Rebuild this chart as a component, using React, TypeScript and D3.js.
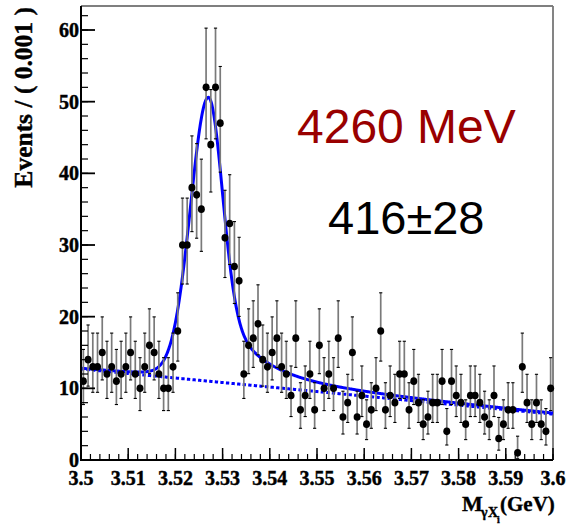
import React from "react";
import * as d3 from "d3";

// ---- data ----
const binStart = 3.5;
const binWidth = 0.001;
const counts: number[] = [
  11, 14, 13, 13, 15, 12, 13, 11, 12, 13, 15, 12, 10, 13, 16, 15, 12, 10, 10, 13,
  18, 30, 30, 38, 37, 35, 52, 44, 52, 47, 31, 33, 27, 25, 12, 16, 17, 19, 14, 13,
  15, 17, 13, 12, 9, 17, 7, 9, 12, 7, 16, 10, 12, 10, 17, 6, 8, 15, 6, 9,
  5, 7, 10, 18, 7, 9, 8, 12, 12, 7, 11, 8, 5, 6, 8, 8, 11, 4, 11, 9,
  8, 5, 9, 9, 8, 6, 5, 9, 3, 5, 7, 7, 1, 13, 8, 5, 8, 5, 4, 10,
];
const xMajorTicks: number[] = [3.5, 3.51, 3.52, 3.53, 3.54, 3.55, 3.56, 3.57, 3.58, 3.59, 3.6];
const xTickLabels: string[] = ["3.5", "3.51", "3.52", "3.53", "3.54", "3.55", "3.56", "3.57", "3.58", "3.59", "3.6"];
const yMajorTicks: number[] = [0, 10, 20, 30, 40, 50, 60];
const yTickLabels: string[] = ["0", "10", "20", "30", "40", "50", "60"];

// fit model parameters
const bgAtLow = 12.7; // background at 3.50
const bgAtHigh = 6.4; // background at 3.60
const peakMean = 3.527;
const peakAmp = 39.6;
const sigmaLeft = 0.0038;
const sigmaRight = 0.0029;
const lorentzFracLeft = 0.08;
const lorentzFracRight = 0.25;
const gammaLeft = 0.005;
const gammaRight = 0.009;

const energyLabel = "4260 MeV";
const yieldLabel = "416\u00B128";

// ---- layout ----
const W = 566;
const H = 525;
const left = 81;
const right = 553;
const top = 6;
const bottom = 460;
const xDomain: [number, number] = [3.5, 3.6];
const yDomain: [number, number] = [0, 63.35];

function background(m: number) {
  const t = (m - xDomain[0]) / (xDomain[1] - xDomain[0]);
  return bgAtLow + (bgAtHigh - bgAtLow) * t;
}
function signal(m: number) {
  const d = m - peakMean;
  const s = d < 0 ? sigmaLeft : sigmaRight;
  const eta = d < 0 ? lorentzFracLeft : lorentzFracRight;
  const g = d < 0 ? gammaLeft : gammaRight;
  const gauss = Math.exp(-(d * d) / (2 * s * s));
  const lor = 1 / (1 + (d / g) * (d / g));
  return peakAmp * ((1 - eta) * gauss + eta * lor);
}
function poissonLow(n: number) {
  if (n <= 0) return 0;
  return n * Math.pow(1 - 1 / (9 * n) - 1 / (3 * Math.sqrt(n)), 3);
}
function poissonHigh(n: number) {
  return n + Math.sqrt(n + 0.75) + 1;
}

export default function App() {
  const x = d3.scaleLinear().domain(xDomain).range([left, right]);
  const y = d3.scaleLinear().domain(yDomain).range([bottom, top]);

  const samples = d3.range(0, 1001).map((i) => xDomain[0] + (i / 1000) * (xDomain[1] - xDomain[0]));
  const totalPath = d3
    .line<number>()
    .x((m) => x(m))
    .y((m) => y(background(m) + signal(m)))(samples) as string;
  const bgPath = d3
    .line<number>()
    .x((m) => x(m))
    .y((m) => y(background(m)))(samples) as string;

  const xMinor = d3.range(0, 51).map((i) => xDomain[0] + i * 0.002);
  const yMinor = d3.range(0, 32).map((i) => i * 2).filter((v) => v <= yDomain[1]);

  const serif = "'Liberation Serif', 'Times New Roman', serif";
  const sans = "'Liberation Sans', Arial, Helvetica, sans-serif";

  return (
    <svg
      width={W}
      height={H}
      style={{ position: "absolute", left: 0, top: 0, background: "#fff" }}
      xmlns="http://www.w3.org/2000/svg"
    >
      <rect x={0} y={0} width={W} height={H} fill="#fff" />

      {/* frame */}
      <line x1={left} y1={top} x2={right} y2={top} stroke="#000" strokeWidth={1.2} />
      <line x1={right} y1={top} x2={right} y2={bottom} stroke="#777" strokeWidth={1.8} />

      {/* curves */}
      <path d={bgPath} fill="none" stroke="#0000ff" strokeWidth={3} strokeDasharray="3.3,2.3" />
      <path d={totalPath} fill="none" stroke="#0000ff" strokeWidth={3} />

      {/* error bars & points */}
      {counts.map((n, i) => {
        const cx = x(binStart + (i + 0.5) * binWidth);
        const lo = y(poissonLow(n));
        const hi = y(Math.min(poissonHigh(n), yDomain[1]));
        return (
          <g key={i}>
            <line x1={cx} y1={lo} x2={cx} y2={hi} stroke="#7a7a7a" strokeWidth={1.7} />
            <line x1={cx - 1.6} y1={lo} x2={cx + 1.6} y2={lo} stroke="#000" strokeWidth={1.1} />
            {poissonHigh(n) < yDomain[1] && (
              <line x1={cx - 1.6} y1={hi} x2={cx + 1.6} y2={hi} stroke="#000" strokeWidth={1.1} />
            )}
            <ellipse cx={cx} cy={y(n)} rx={3.5} ry={3.8} fill="#000" />
          </g>
        );
      })}

      {/* x axis */}
      <line x1={left - 1} y1={bottom} x2={right} y2={bottom} stroke="#000" strokeWidth={2} />
      {xMinor.map((v, i) => (
        <line key={"xm" + i} x1={x(v)} y1={bottom} x2={x(v)} y2={bottom - 6} stroke="#000" strokeWidth={1.2} />
      ))}
      {xMajorTicks.map((v, i) => (
        <g key={"xM" + i}>
          <line x1={x(v)} y1={bottom} x2={x(v)} y2={bottom - 12} stroke="#000" strokeWidth={1.5} />
          <text
            x={x(v)}
            y={485}
            textAnchor="middle"
            fontFamily={serif}
            fontWeight="bold"
            fontSize={20}
            fill="#000"
            stroke="#000"
            strokeWidth={0.45}
          >
            {xTickLabels[i]}
          </text>
        </g>
      ))}

      {/* y axis */}
      <line x1={left} y1={top} x2={left} y2={bottom + 1} stroke="#000" strokeWidth={2} />
      {yMinor.map((v, i) => (
        <line key={"ym" + i} x1={left} y1={y(v)} x2={left + 7} y2={y(v)} stroke="#000" strokeWidth={1.2} />
      ))}
      {yMajorTicks.map((v, i) => (
        <g key={"yM" + i}>
          <line x1={left} y1={y(v)} x2={left + 14} y2={y(v)} stroke="#000" strokeWidth={1.8} />
          <text
            x={79}
            y={y(v) + 7}
            textAnchor="end"
            fontFamily={serif}
            fontWeight="bold"
            fontSize={20}
            fill="#000"
            stroke="#000"
            strokeWidth={0.45}
          >
            {yTickLabels[i]}
          </text>
        </g>
      ))}

      {/* axis titles */}
      <text
        transform="translate(32,7) rotate(-90)"
        textAnchor="end"
        fontFamily={serif}
        fontWeight="bold"
        fontSize={25.5}
        fill="#000"
        stroke="#000"
        strokeWidth={0.4}
      >
        Events / ( 0.001 )
      </text>
      <text fontFamily={serif} fontWeight="bold" fill="#000" stroke="#000" strokeWidth={0.35}>
        <tspan x={462} y={511} fontSize={22}>M</tspan>
        <tspan x={481} y={517} fontSize={14}>γ</tspan>
        <tspan x={488} y={517} fontSize={14}>X</tspan>
        <tspan x={497} y={523} fontSize={10}>i</tspan>
        <tspan x={500} y={511} fontSize={21}>(GeV)</tspan>
      </text>

      {/* annotations */}
      <text x={297} y={143} fontFamily={sans} fontSize={48} fill="#990000">
        {energyLabel}
      </text>
      <text x={328} y={234} fontFamily={sans} fontSize={47} fill="#000">
        {yieldLabel}
      </text>
    </svg>
  );
}
